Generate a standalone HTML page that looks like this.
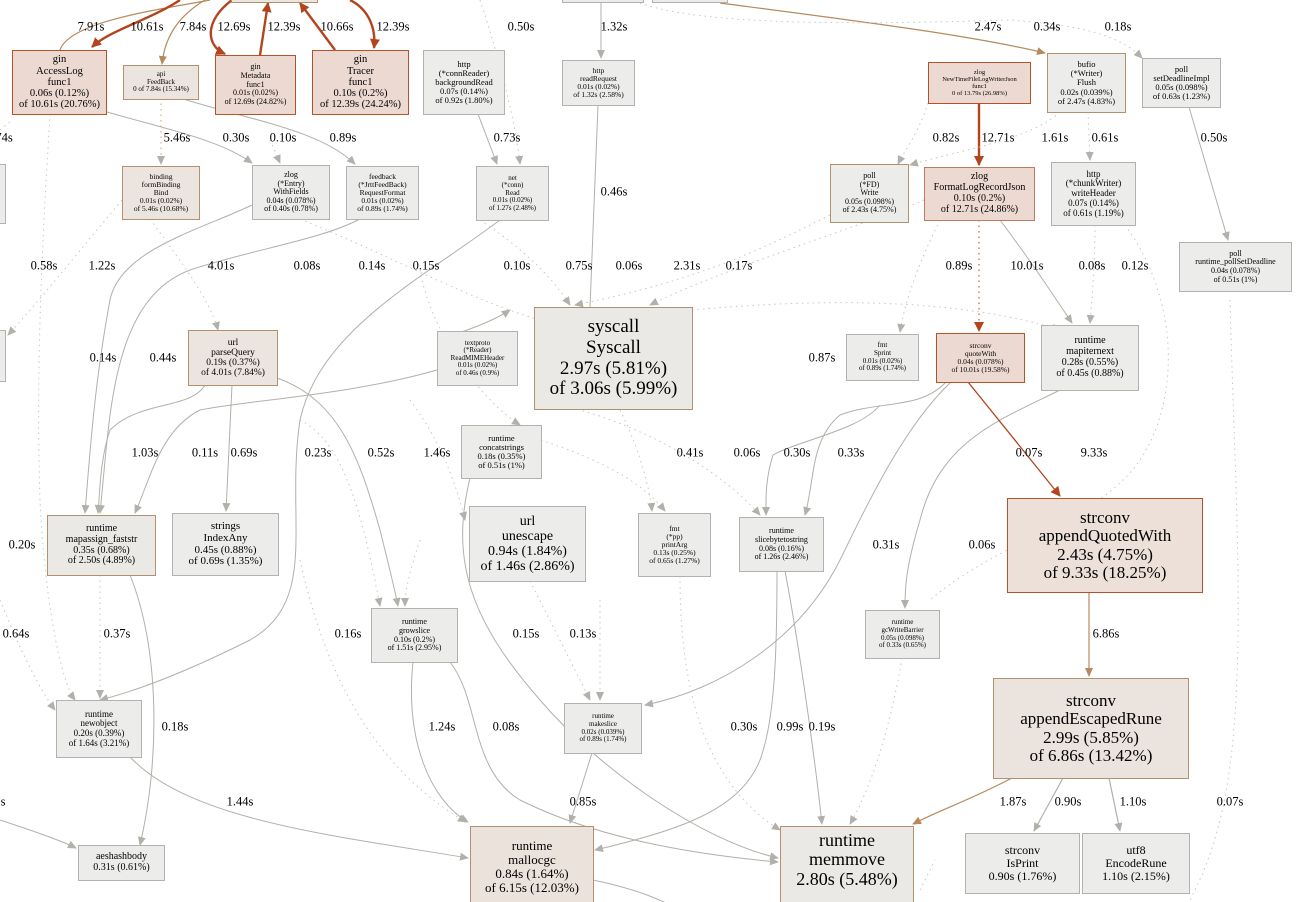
<!DOCTYPE html>
<html><head><meta charset="utf-8"><style>
html,body{margin:0;padding:0;background:#fff;}
#c{position:relative;width:1296px;height:902px;overflow:hidden;font-family:"Liberation Serif",serif;color:#000;}
svg{position:absolute;left:0;top:0;}
.n{position:absolute;box-sizing:border-box;display:flex;flex-direction:column;justify-content:center;align-items:center;text-align:center;line-height:1.08;white-space:nowrap;border:1.5px solid #b2b2b0;background:#ececea;}
.p{background:#ecdad2;border-color:#b4532a;}
.t{background:#ece4df;border-color:#b4916d;}
.l{position:absolute;font-size:12.5px;transform:translate(-50%,-50%);white-space:nowrap;}
</style></head><body><div id="c">
<svg width="1296" height="902" viewBox="0 0 1296 902">
<defs>
<marker id="ag" markerWidth="10" markerHeight="10" refX="8" refY="4" orient="auto" markerUnits="userSpaceOnUse"><path d="M0,0 L9,4 L0,8z" fill="#b2b0aa"/></marker>
<marker id="ab" markerWidth="12" markerHeight="12" refX="9" refY="5" orient="auto" markerUnits="userSpaceOnUse"><path d="M0,0 L10,5 L0,10z" fill="#b2451d"/></marker>
<marker id="at" markerWidth="10" markerHeight="10" refX="8" refY="4" orient="auto" markerUnits="userSpaceOnUse"><path d="M0,0 L9,4 L0,8z" fill="#b58a5e"/></marker>
</defs>
<g fill="none" stroke="#b2b0aa" stroke-width="1">
<path d="M478,114 L497,164" marker-end="url(#ag)"/>
<path d="M601,3 L601,58" marker-end="url(#ag)"/>
<path d="M107,112 C170,130 220,140 252,163" marker-end="url(#ag)"/>
<path d="M180,98 C250,120 320,130 355,164" marker-end="url(#ag)"/>
<path d="M1189,107 L1228,240" marker-end="url(#ag)"/>
<path d="M598,105 C595,180 592,260 590,307"/>
<path d="M252,205 C200,230 120,250 110,300 C95,380 90,450 85,513" marker-end="url(#ag)"/>
<path d="M360,219 C320,240 250,250 190,270 C110,300 110,420 100,513" marker-end="url(#ag)"/>
<path d="M205,385 C190,410 140,400 110,430 C100,460 100,490 98,513" marker-end="url(#ag)"/>
<path d="M437,370 C350,395 250,400 200,410 C160,430 150,480 135,513" marker-end="url(#ag)"/>
<path d="M232,385 L226,511" marker-end="url(#ag)"/>
<path d="M500,220 C420,280 320,330 300,420 C285,520 320,600 250,640 C190,670 140,690 100,700" marker-end="url(#ag)"/>
<path d="M277,378 C340,400 360,460 380,530 C390,570 395,590 398,606" marker-end="url(#ag)"/>
<path d="M437,340 C470,330 495,320 510,310" marker-end="url(#ag)"/>
<path d="M130,575 C160,650 160,760 140,845" marker-end="url(#ag)"/>
<path d="M130,757 C190,820 330,835 468,858" marker-end="url(#ag)"/>
<path d="M0,820 C30,830 60,840 76,848" marker-end="url(#ag)"/>
<path d="M413,662 C405,740 430,800 468,822" marker-end="url(#ag)"/>
<path d="M450,662 C480,700 470,770 520,800 C600,840 700,855 778,862" marker-end="url(#ag)"/>
<path d="M470,478 C450,560 470,620 540,700 C600,770 700,840 778,858" marker-end="url(#ag)"/>
<path d="M592,753 L570,823" marker-end="url(#ag)"/>
<path d="M880,405 C860,430 800,440 773,455 C765,480 766,500 766,515" marker-end="url(#ag)"/>
<path d="M946,382 C920,410 880,400 840,415 C810,440 815,480 805,515" marker-end="url(#ag)"/>
<path d="M951,382 C900,430 860,520 840,560 C800,640 720,690 645,705" marker-end="url(#ag)"/>
<path d="M1060,390 C1000,420 940,440 920,520 C905,570 905,590 905,608" marker-end="url(#ag)"/>
<path d="M777,571 C777,650 775,720 760,760 C740,810 680,830 595,850" marker-end="url(#ag)"/>
<path d="M785,571 C800,650 815,760 822,824" marker-end="url(#ag)"/>
<path d="M1000,220 C1030,260 1050,290 1072,323" marker-end="url(#ag)"/>
<path d="M593,880 C640,890 660,900 670,905"/>
</g>
<g fill="none" stroke="#b58a5e" stroke-width="1.2">
<path d="M60,50 C70,20 170,8 210,0"/>
<path d="M205,0 C180,15 165,35 162,64" marker-end="url(#at)"/>
<path d="M720,3 C850,20 970,35 1045,53" marker-end="url(#at)"/>
<path d="M1012,778 C970,800 940,810 913,824" marker-end="url(#at)"/>
<path d="M1089,592 L1089,676" marker-end="url(#at)"/>
<path d="M1063,778 L1034,831" marker-end="url(#ag)" stroke="#b2b0aa"/>
<path d="M1109,778 L1120,831" marker-end="url(#ag)" stroke="#b2b0aa"/>
</g>
<g fill="none" stroke="#b2451d" stroke-width="2.4">
<path d="M180,0 C150,20 110,30 92,47" marker-end="url(#ab)"/>
<path d="M232,0 C205,20 205,45 225,54" marker-end="url(#ab)"/>
<path d="M260,55 L268,3" marker-end="url(#ab)"/>
<path d="M335,50 L300,3" marker-end="url(#ab)"/>
<path d="M350,0 C370,10 376,30 374,48" marker-end="url(#ab)"/>
<path d="M979,103 L979,165" marker-end="url(#ab)"/>
</g>
<path d="M968,382 L1060,496" fill="none" stroke="#b2451d" stroke-width="1.3" marker-end="url(#ab)"/>
<g fill="none" stroke="#c8c6c0" stroke-width="1" stroke-dasharray="1.5,4">
<path d="M480,0 C500,60 515,120 520,164" marker-end="url(#ag)"/>
<path d="M640,3 C700,25 850,25 1010,20 C1080,25 1120,35 1142,58" marker-end="url(#ag)"/>
<path d="M161,98 L161,164" marker-end="url(#ag)" stroke="#c9a07a"/>
<path d="M270,140 L280,163" marker-end="url(#ag)"/>
<path d="M928,103 C920,130 905,150 898,164" marker-end="url(#ag)"/>
<path d="M1060,112 C1030,140 960,150 910,165" marker-end="url(#ag)"/>
<path d="M1088,112 L1090,160" marker-end="url(#ag)"/>
<path d="M50,114 C45,200 35,350 40,500 C45,600 60,680 75,700" marker-end="url(#ag)"/>
<path d="M122,200 C80,250 40,300 8,335" marker-end="url(#ag)"/>
<path d="M0,130 L12,120"/>
<path d="M150,219 C180,260 210,300 218,330" marker-end="url(#ag)"/>
<path d="M924,200 C850,230 720,270 650,305" marker-end="url(#ag)"/>
<path d="M830,215 C760,250 700,280 575,305" marker-end="url(#ag)"/>
<path d="M480,220 C540,260 560,290 570,305" marker-end="url(#ag)"/>
<path d="M300,219 C400,260 470,300 540,320"/>
<path d="M979,220 L979,331" marker-end="url(#ab)" stroke="#b2451d"/>
<path d="M940,220 C920,260 905,300 900,332" marker-end="url(#ag)"/>
<path d="M1095,225 C1095,260 1092,300 1090,323" marker-end="url(#ag)"/>
<path d="M1125,225 C1180,300 1180,400 1140,460 C1100,520 1000,540 930,600"/>
<path d="M692,310 C800,300 950,295 1060,330" marker-end="url(#ag)"/>
<path d="M540,400 C640,420 720,470 760,515" marker-end="url(#ag)"/>
<path d="M420,270 C430,330 480,400 520,425" marker-end="url(#ag)"/>
<path d="M620,410 C640,450 650,490 652,511" marker-end="url(#ag)"/>
<path d="M541,440 C600,460 640,480 665,511" marker-end="url(#ag)"/>
<path d="M410,400 C440,440 455,480 465,520" marker-end="url(#ag)"/>
<path d="M300,420 C340,440 360,500 380,606" marker-end="url(#ag)"/>
<path d="M420,540 C410,570 405,590 405,606" marker-end="url(#ag)"/>
<path d="M100,575 L100,698" marker-end="url(#ag)"/>
<path d="M0,600 C20,650 40,690 55,710" marker-end="url(#ag)"/>
<path d="M300,560 C320,650 360,760 466,822" marker-end="url(#ag)"/>
<path d="M530,581 C560,640 580,680 590,700" marker-end="url(#ag)"/>
<path d="M600,600 L600,700" marker-end="url(#ag)"/>
<path d="M680,576 C680,680 700,780 780,830" marker-end="url(#ag)"/>
<path d="M902,658 C890,730 870,790 850,824" marker-end="url(#ag)"/>
<path d="M1230,300 C1235,500 1250,700 1220,820 C1210,860 1200,880 1190,900"/>
<path d="M920,890 C925,880 930,870 935,860"/>
</g>
</svg>

<div class="n t" style="left:231px;top:-10px;width:87px;height:13px"></div>
<div class="n" style="left:562px;top:-10px;width:82px;height:13px"></div>
<div class="n" style="left:652px;top:-10px;width:76px;height:13px"></div>
<div class="n" style="left:-4px;top:164px;width:10px;height:60px"></div>
<div class="n" style="left:-4px;top:330px;width:10px;height:52px"></div>

<div class="n p" style="left:12px;top:50px;width:95px;height:65px;font-size:10.5px"><div>gin</div><div>AccessLog</div><div>func1</div><div>0.06s (0.12%)</div><div>of 10.61s (20.76%)</div></div>
<div class="n t" style="left:123px;top:65px;width:76px;height:35px;font-size:7px"><div>api</div><div>FeedBack</div><div>0 of 7.84s (15.34%)</div></div>
<div class="n p" style="left:215px;top:55px;width:81px;height:60px;font-size:8px"><div>gin</div><div>Metadata</div><div>func1</div><div>0.01s (0.02%)</div><div>of 12.69s (24.82%)</div></div>
<div class="n p" style="left:312px;top:50px;width:97px;height:65px;font-size:10.5px"><div>gin</div><div>Tracer</div><div>func1</div><div>0.10s (0.2%)</div><div>of 12.39s (24.24%)</div></div>
<div class="n" style="left:423px;top:50px;width:82px;height:65px;font-size:8.5px"><div>http</div><div>(*connReader)</div><div>backgroundRead</div><div>0.07s (0.14%)</div><div>of 0.92s (1.80%)</div></div>
<div class="n" style="left:562px;top:60px;width:73px;height:46px;font-size:7.5px"><div>http</div><div>readRequest</div><div>0.01s (0.02%)</div><div>of 1.32s (2.58%)</div></div>
<div class="n p" style="left:928px;top:62px;width:103px;height:42px;font-size:6.5px"><div>zlog</div><div>NewTimeFileLogWriterJson</div><div>func1</div><div>0 of 13.79s (26.98%)</div></div>
<div class="n t" style="left:1047px;top:53px;width:79px;height:60px;font-size:8.5px;background:#ececea"><div>bufio</div><div>(*Writer)</div><div>Flush</div><div>0.02s (0.039%)</div><div>of 2.47s (4.83%)</div></div>
<div class="n" style="left:1142px;top:58px;width:79px;height:50px;font-size:8.5px"><div>poll</div><div>setDeadlineImpl</div><div>0.05s (0.098%)</div><div>of 0.63s (1.23%)</div></div>

<div class="n t" style="left:122px;top:166px;width:78px;height:54px;font-size:7.5px"><div>binding</div><div>formBinding</div><div>Bind</div><div>0.01s (0.02%)</div><div>of 5.46s (10.68%)</div></div>
<div class="n" style="left:252px;top:165px;width:78px;height:55px;font-size:8px"><div>zlog</div><div>(*Entry)</div><div>WithFields</div><div>0.04s (0.078%)</div><div>of 0.40s (0.78%)</div></div>
<div class="n" style="left:346px;top:166px;width:73px;height:54px;font-size:7.5px"><div>feedback</div><div>(*JrttFeedBack)</div><div>RequestFormat</div><div>0.01s (0.02%)</div><div>of 0.89s (1.74%)</div></div>
<div class="n" style="left:476px;top:166px;width:73px;height:55px;font-size:7px"><div>net</div><div>(*conn)</div><div>Read</div><div>0.01s (0.02%)</div><div>of 1.27s (2.48%)</div></div>
<div class="n t" style="left:830px;top:164px;width:79px;height:59px;font-size:8px;background:#ececea"><div>poll</div><div>(*FD)</div><div>Write</div><div>0.05s (0.098%)</div><div>of 2.43s (4.75%)</div></div>
<div class="n p" style="left:924px;top:167px;width:111px;height:54px;font-size:10px;border-color:#c07a5c"><div>zlog</div><div>FormatLogRecordJson</div><div>0.10s (0.2%)</div><div>of 12.71s (24.86%)</div></div>
<div class="n" style="left:1051px;top:162px;width:85px;height:64px;font-size:9px"><div>http</div><div>(*chunkWriter)</div><div>writeHeader</div><div>0.07s (0.14%)</div><div>of 0.61s (1.19%)</div></div>
<div class="n" style="left:1179px;top:242px;width:113px;height:50px;font-size:8px"><div>poll</div><div>runtime_pollSetDeadline</div><div>0.04s (0.078%)</div><div>of 0.51s (1%)</div></div>

<div class="n t" style="left:188px;top:330px;width:90px;height:56px;font-size:9.5px"><div>url</div><div>parseQuery</div><div>0.19s (0.37%)</div><div>of 4.01s (7.84%)</div></div>
<div class="n" style="left:437px;top:331px;width:81px;height:55px;font-size:7px"><div>textproto</div><div>(*Reader)</div><div>ReadMIMEHeader</div><div>0.01s (0.02%)</div><div>of 0.46s (0.9%)</div></div>
<div class="n t" style="left:534px;top:307px;width:159px;height:103px;font-size:19px;background:#ebe9e6"><div>syscall</div><div>Syscall</div><div>2.97s (5.81%)</div><div>of 3.06s (5.99%)</div></div>
<div class="n" style="left:846px;top:334px;width:73px;height:47px;font-size:7px"><div>fmt</div><div>Sprint</div><div>0.01s (0.02%)</div><div>of 0.89s (1.74%)</div></div>
<div class="n p" style="left:936px;top:333px;width:89px;height:50px;font-size:7.5px"><div>strconv</div><div>quoteWith</div><div>0.04s (0.078%)</div><div>of 10.01s (19.58%)</div></div>
<div class="n" style="left:1041px;top:325px;width:98px;height:66px;font-size:10px"><div>runtime</div><div>mapiternext</div><div>0.28s (0.55%)</div><div>of 0.45s (0.88%)</div></div>

<div class="n" style="left:461px;top:425px;width:81px;height:54px;font-size:8.5px"><div>runtime</div><div>concatstrings</div><div>0.18s (0.35%)</div><div>of 0.51s (1%)</div></div>
<div class="n t" style="left:47px;top:515px;width:109px;height:61px;font-size:10px;background:#ebe9e6"><div>runtime</div><div>mapassign_faststr</div><div>0.35s (0.68%)</div><div>of 2.50s (4.89%)</div></div>
<div class="n" style="left:172px;top:513px;width:107px;height:63px;font-size:11px"><div>strings</div><div>IndexAny</div><div>0.45s (0.88%)</div><div>of 0.69s (1.35%)</div></div>
<div class="n" style="left:469px;top:506px;width:117px;height:76px;font-size:14px"><div>url</div><div>unescape</div><div>0.94s (1.84%)</div><div>of 1.46s (2.86%)</div></div>
<div class="n" style="left:638px;top:513px;width:73px;height:64px;font-size:7.5px"><div>fmt</div><div>(*pp)</div><div>printArg</div><div>0.13s (0.25%)</div><div>of 0.65s (1.27%)</div></div>
<div class="n" style="left:739px;top:517px;width:85px;height:55px;font-size:8px"><div>runtime</div><div>slicebytetostring</div><div>0.08s (0.16%)</div><div>of 1.26s (2.46%)</div></div>
<div class="n p" style="left:1007px;top:498px;width:196px;height:95px;font-size:17px;background:#ece0d8"><div>strconv</div><div>appendQuotedWith</div><div>2.43s (4.75%)</div><div>of 9.33s (18.25%)</div></div>

<div class="n" style="left:371px;top:608px;width:87px;height:55px;font-size:8px"><div>runtime</div><div>growslice</div><div>0.10s (0.2%)</div><div>of 1.51s (2.95%)</div></div>
<div class="n" style="left:865px;top:610px;width:75px;height:49px;font-size:7px"><div>runtime</div><div>gcWriteBarrier</div><div>0.05s (0.098%)</div><div>of 0.33s (0.65%)</div></div>
<div class="n t" style="left:993px;top:678px;width:196px;height:101px;font-size:17px;background:#ebe3de"><div>strconv</div><div>appendEscapedRune</div><div>2.99s (5.85%)</div><div>of 6.86s (13.42%)</div></div>
<div class="n" style="left:56px;top:700px;width:86px;height:58px;font-size:9px"><div>runtime</div><div>newobject</div><div>0.20s (0.39%)</div><div>of 1.64s (3.21%)</div></div>
<div class="n" style="left:564px;top:703px;width:78px;height:51px;font-size:7px"><div>runtime</div><div>makeslice</div><div>0.02s (0.039%)</div><div>of 0.89s (1.74%)</div></div>

<div class="n" style="left:78px;top:845px;width:87px;height:36px;font-size:10px"><div>aeshashbody</div><div>0.31s (0.61%)</div></div>
<div class="n t" style="left:470px;top:826px;width:124px;height:82px;font-size:13px;background:#ece2dc"><div>runtime</div><div>mallocgc</div><div>0.84s (1.64%)</div><div>of 6.15s (12.03%)</div></div>
<div class="n t" style="left:780px;top:826px;width:134px;height:80px;font-size:18px;background:#ebe9e6;justify-content:flex-start;padding-top:4px"><div>runtime</div><div>memmove</div><div>2.80s (5.48%)</div></div>
<div class="n" style="left:965px;top:833px;width:115px;height:61px;font-size:12px"><div>strconv</div><div>IsPrint</div><div>0.90s (1.76%)</div></div>
<div class="n" style="left:1082px;top:833px;width:108px;height:61px;font-size:12px"><div>utf8</div><div>EncodeRune</div><div>1.10s (2.15%)</div></div>

<span class="l" style="left:91px;top:27px">7.91s</span>
<span class="l" style="left:147px;top:27px">10.61s</span>
<span class="l" style="left:193px;top:27px">7.84s</span>
<span class="l" style="left:234px;top:27px">12.69s</span>
<span class="l" style="left:284px;top:27px">12.39s</span>
<span class="l" style="left:337px;top:27px">10.66s</span>
<span class="l" style="left:393px;top:27px">12.39s</span>
<span class="l" style="left:521px;top:27px">0.50s</span>
<span class="l" style="left:614px;top:27px">1.32s</span>
<span class="l" style="left:988px;top:27px">2.47s</span>
<span class="l" style="left:1047px;top:27px">0.34s</span>
<span class="l" style="left:1118px;top:27px">0.18s</span>
<span class="l" style="left:4px;top:138px">74s</span>
<span class="l" style="left:177px;top:138px">5.46s</span>
<span class="l" style="left:236px;top:138px">0.30s</span>
<span class="l" style="left:283px;top:138px">0.10s</span>
<span class="l" style="left:343px;top:138px">0.89s</span>
<span class="l" style="left:507px;top:138px">0.73s</span>
<span class="l" style="left:946px;top:138px">0.82s</span>
<span class="l" style="left:998px;top:138px">12.71s</span>
<span class="l" style="left:1055px;top:138px">1.61s</span>
<span class="l" style="left:1105px;top:138px">0.61s</span>
<span class="l" style="left:1214px;top:138px">0.50s</span>
<span class="l" style="left:614px;top:192px">0.46s</span>
<span class="l" style="left:44px;top:266px">0.58s</span>
<span class="l" style="left:102px;top:266px">1.22s</span>
<span class="l" style="left:221px;top:266px">4.01s</span>
<span class="l" style="left:307px;top:266px">0.08s</span>
<span class="l" style="left:372px;top:266px">0.14s</span>
<span class="l" style="left:426px;top:266px">0.15s</span>
<span class="l" style="left:517px;top:266px">0.10s</span>
<span class="l" style="left:579px;top:266px">0.75s</span>
<span class="l" style="left:629px;top:266px">0.06s</span>
<span class="l" style="left:687px;top:266px">2.31s</span>
<span class="l" style="left:739px;top:266px">0.17s</span>
<span class="l" style="left:959px;top:266px">0.89s</span>
<span class="l" style="left:1027px;top:266px">10.01s</span>
<span class="l" style="left:1092px;top:266px">0.08s</span>
<span class="l" style="left:1135px;top:266px">0.12s</span>
<span class="l" style="left:103px;top:358px">0.14s</span>
<span class="l" style="left:163px;top:358px">0.44s</span>
<span class="l" style="left:822px;top:358px">0.87s</span>
<span class="l" style="left:145px;top:453px">1.03s</span>
<span class="l" style="left:205px;top:453px">0.11s</span>
<span class="l" style="left:244px;top:453px">0.69s</span>
<span class="l" style="left:318px;top:453px">0.23s</span>
<span class="l" style="left:381px;top:453px">0.52s</span>
<span class="l" style="left:437px;top:453px">1.46s</span>
<span class="l" style="left:690px;top:453px">0.41s</span>
<span class="l" style="left:747px;top:453px">0.06s</span>
<span class="l" style="left:797px;top:453px">0.30s</span>
<span class="l" style="left:851px;top:453px">0.33s</span>
<span class="l" style="left:1029px;top:453px">0.07s</span>
<span class="l" style="left:1094px;top:453px">9.33s</span>
<span class="l" style="left:22px;top:545px">0.20s</span>
<span class="l" style="left:886px;top:545px">0.31s</span>
<span class="l" style="left:982px;top:545px">0.06s</span>
<span class="l" style="left:16px;top:634px">0.64s</span>
<span class="l" style="left:117px;top:634px">0.37s</span>
<span class="l" style="left:348px;top:634px">0.16s</span>
<span class="l" style="left:526px;top:634px">0.15s</span>
<span class="l" style="left:583px;top:634px">0.13s</span>
<span class="l" style="left:1106px;top:634px">6.86s</span>
<span class="l" style="left:175px;top:727px">0.18s</span>
<span class="l" style="left:442px;top:727px">1.24s</span>
<span class="l" style="left:506px;top:727px">0.08s</span>
<span class="l" style="left:744px;top:727px">0.30s</span>
<span class="l" style="left:790px;top:727px">0.99s</span>
<span class="l" style="left:822px;top:727px">0.19s</span>
<span class="l" style="left:3px;top:802px">s</span>
<span class="l" style="left:240px;top:802px">1.44s</span>
<span class="l" style="left:583px;top:802px">0.85s</span>
<span class="l" style="left:1013px;top:802px">1.87s</span>
<span class="l" style="left:1068px;top:802px">0.90s</span>
<span class="l" style="left:1133px;top:802px">1.10s</span>
<span class="l" style="left:1230px;top:802px">0.07s</span>
</div></body></html>
